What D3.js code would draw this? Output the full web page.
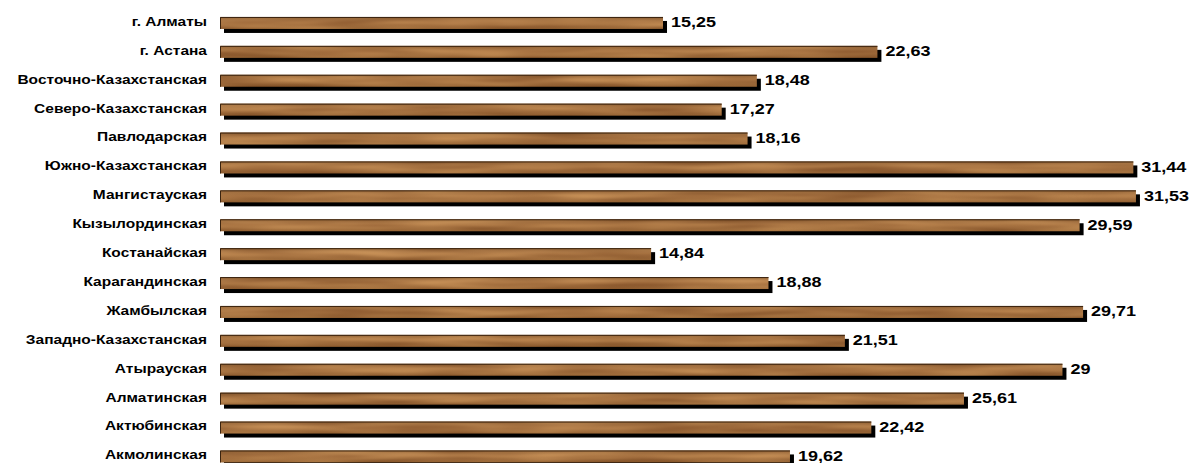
<!DOCTYPE html>
<html><head><meta charset="utf-8">
<script src="https://cdn.jsdelivr.net/npm/d3@7"></script>
<style>body{margin:0;background:#fff}svg{display:block}</style>
</head><body>
<script>
const categories = ["г. Алматы","г. Астана","Восточно-Казахстанская","Северо-Казахстанская","Павлодарская","Южно-Казахстанская","Мангистауская","Кызылординская","Костанайская","Карагандинская","Жамбылская","Западно-Казахстанская","Атырауская","Алматинская","Актюбинская","Акмолинская"];
const values = [15.25,22.63,18.48,17.27,18.16,31.44,31.53,29.59,14.84,18.88,29.71,21.51,29,25.61,22.42,19.62];

const W = 1190, H = 463;
const svg = d3.select("body").append("svg").attr("width", W).attr("height", H);
const defs = svg.append("defs");
const f = defs.append("filter").attr("id","wood").attr("filterUnits","userSpaceOnUse")
  .attr("x",0).attr("y",0).attr("width",W).attr("height",H)
  .attr("color-interpolation-filters","sRGB");
f.append("feTurbulence").attr("type","fractalNoise").attr("baseFrequency","0.01 0.12").attr("numOctaves",2).attr("seed",11).attr("result","n");
f.append("feColorMatrix").attr("in","n").attr("type","matrix")
 .attr("values","0.32 0 0 0 0.50  0.3 0 0 0 0.29  0.22 0 0 0 0.12  0 0 0 0 1").attr("result","c");
f.append("feComposite").attr("in","c").attr("in2","SourceGraphic").attr("operator","in");

const grad = defs.append("linearGradient").attr("id","shade").attr("x1",0).attr("y1",0).attr("x2",0).attr("y2",1);
grad.append("stop").attr("offset","0").attr("stop-color","#000").attr("stop-opacity",0.15);
grad.append("stop").attr("offset","0.45").attr("stop-color","#fff").attr("stop-opacity",0.05);
grad.append("stop").attr("offset","1").attr("stop-color","#000").attr("stop-opacity",0.1);

const x = d3.scaleLinear().domain([0, 35]).range([220, 220 + 35 * 29.05]);
const y = d3.scaleBand().domain(categories).range([8.5, 8.5 + 16 * 28.9]).paddingInner(0.585).paddingOuter(0.2925);

const data = categories.map((c, i) => ({c, v: values[i]}));
const g = svg.append("g");
const row = g.selectAll("g.row").data(data).join("g").attr("class","row");

row.append("rect").attr("x", d => x(0) + 4).attr("y", d => y(d.c) + 4)
  .attr("width", d => x(d.v) - x(0)).attr("height", y.bandwidth()).attr("fill","#000");
row.append("rect").attr("x", d => x(0)).attr("y", d => y(d.c))
  .attr("width", d => x(d.v) - x(0)).attr("height", y.bandwidth()).attr("fill","#a06a3a").attr("filter","url(#wood)");
row.append("rect").attr("x", d => x(0)).attr("y", d => y(d.c))
  .attr("width", d => x(d.v) - x(0)).attr("height", y.bandwidth()).attr("fill","url(#shade)");
row.append("path").attr("d", d => `M${x(0)+0.5},${y(d.c)+y.bandwidth()}V${y(d.c)+0.5}H${x(d.v)}`)
  .attr("fill","none").attr("stroke","#3a230f").attr("stroke-width",1);

row.append("text")
  .attr("transform", d => `translate(207,${y(d.c) + y.bandwidth()/2 - 1.5}) scale(1.24,1)`)
  .attr("dy","0.35em").attr("text-anchor","end")
  .style("font", "bold 12.5px 'Liberation Sans', Arial, sans-serif").attr("fill","#000")
  .text(d => d.c);
row.append("text")
  .attr("transform", d => `translate(${x(d.v) + 8},${y(d.c) + y.bandwidth()/2 - 1}) scale(1.2,1)`)
  .attr("dy","0.35em")
  .style("font", "bold 15px 'Liberation Sans', Arial, sans-serif").attr("fill","#000")
  .text(d => String(d.v).replace(".", ","));
</script>
</body></html>
